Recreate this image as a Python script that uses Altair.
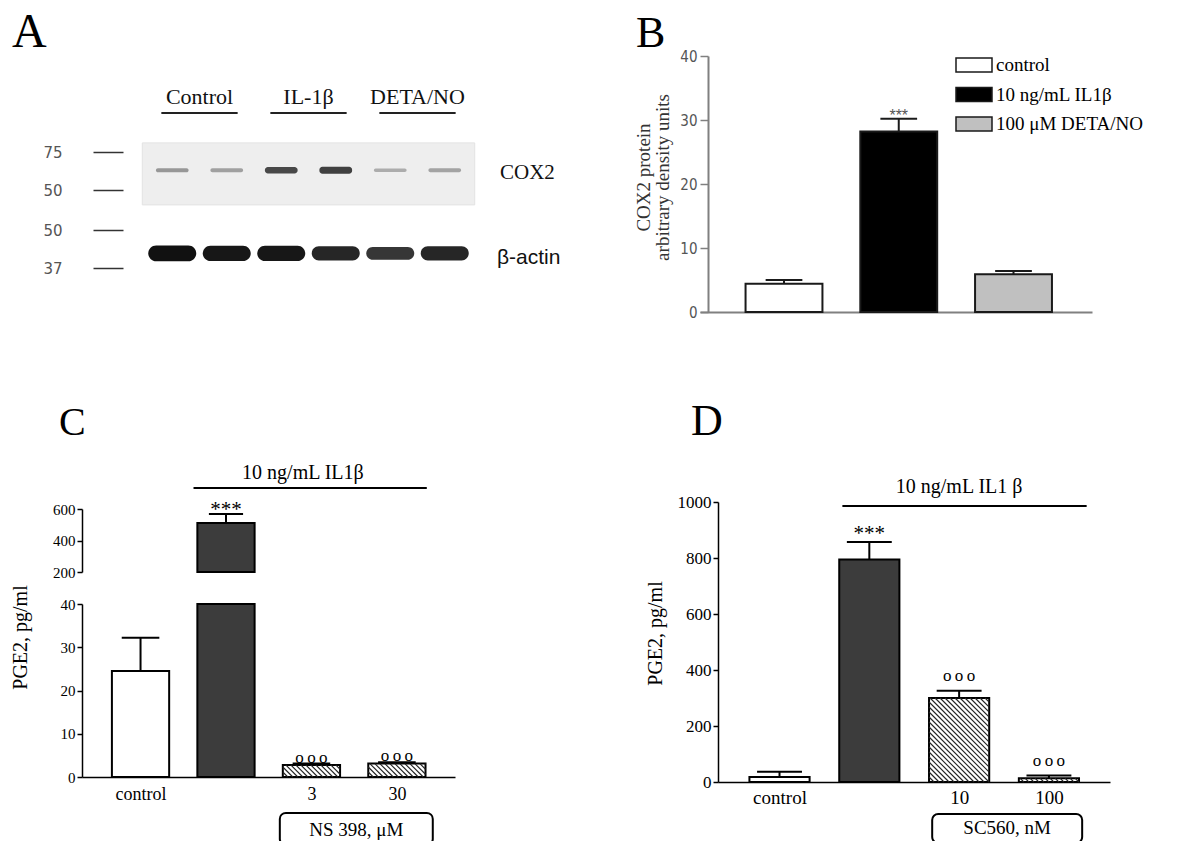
import json
import altair as alt
import pandas as pd

# ---------------- values ----------------
# Panel A - western blot, 6 lanes (duplicates per treatment)
lanes = [1, 2, 3, 4, 5, 6]
lane_treatment = ["Control", "Control", "IL-1β", "IL-1β", "DETA/NO", "DETA/NO"]
cox2_intensity = [0.35, 0.30, 0.85, 0.90, 0.22, 0.28]
actin_intensity = [1.00, 0.95, 0.95, 0.80, 0.65, 0.80]
cox2_band_kda = 63
actin_band_kda = 42
cox2_markers = [75, 50]
actin_markers = [50, 37]

# Panel B - COX2 densitometry
b_groups = ["control", "10 ng/mL IL1β", "100 μM DETA/NO"]
b_mean = [4.4, 28.2, 5.9]
b_sem = [0.6, 2.0, 0.5]
b_sig = ["", "***", ""]

# Panel C - PGE2 with NS 398
c_labels = ["control", "", "3", "30"]
c_kind = ["control", "IL1β", "inhibitor", "inhibitor"]
c_mean = [24.5, 511, 2.8, 3.1]
c_sem = [7.7, 57, 0.3, 0.3]
c_sig = ["", "***", "o\u2009o\u2009o", "o\u2009o\u2009o"]
c_treat_label = "10 ng/mL IL1β"
c_inhib_label = "NS 398, μM"

# Panel D - PGE2 with SC560
d_labels = ["control", "", "10", "100"]
d_kind = ["control", "IL1β", "inhibitor", "inhibitor"]
d_mean = [18, 795, 300, 13]
d_sem = [19, 62, 26, 10]
d_sig = ["", "***", "o\u2009o\u2009o", "o\u2009o\u2009o"]
d_treat_label = "10 ng/mL IL1 β"
d_inhib_label = "SC560, nM"

# ---------------- layout / style ----------------
W, H = 1184, 833
SERIF = "Liberation Serif"
SANS = "Liberation Sans"
NARROW = "Liberation Sans Narrow, DejaVu Sans Condensed, Liberation Sans"
MARKF = "DejaVu Sans"
HW = 0.335  # bar half width (in category steps)


def px(v):
    return v - 8


def lin(domain, rng):
    return alt.Scale(domain=domain, range=rng, nice=False, zero=False)


def bar_frame(labels, kinds, mean, sem, sig):
    return pd.DataFrame({
        "i": list(range(len(labels))), "label": labels, "kind": kinds,
        "mean": mean, "top": [m + s for m, s in zip(mean, sem)], "sig": sig,
    })


# ================= Panel A =================
blot = pd.DataFrame({"lane": lanes, "group": lane_treatment,
                     "cox2": cox2_intensity, "actin": actin_intensity})
xA = lin([0.5, 6.5], [px(145), px(472)])
yA1 = lin([50, 75], [px(190), px(152)])
yA2 = lin([37, 50], [px(268), px(230)])


def marker_axis(vals, axis_x):
    return alt.Axis(orient="left", offset=-px(axis_x), values=vals, tickSize=30,
                    tickWidth=1.5, tickColor="#333", domain=False, labelFont=MARKF,
                    labelFontSize=15, labelColor="#555", labelPadding=31,
                    grid=False, title=None)


axA1 = marker_axis(cox2_markers, 123)
axA2 = marker_axis(actin_markers, 123)
base_blot = alt.Chart(blot)

membrane = base_blot.transform_aggregate(
    lo="min(lane)", hi="max(lane)"
).transform_calculate(
    x1="datum.lo - 0.55", x2="datum.hi + 0.55", y1="40.2", y2="81"
).mark_rect(fill="#eeeeee", stroke="#e3e3e3").encode(
    x=alt.X("x1:Q", scale=xA, axis=None), x2="x2:Q",
    y=alt.Y("y1:Q", scale=yA1, axis=axA1), y2="y2:Q")

cox_bands = base_blot.transform_calculate(
    x1="datum.lane - 0.3", x2="datum.lane + 0.3",
    y1=f"{cox2_band_kda} - (0.8 + 1.6*datum.cox2)",
    y2=f"{cox2_band_kda} + (0.8 + 1.6*datum.cox2)",
    op="0.15 + 0.8*datum.cox2"
).mark_rect(fill="#262626", cornerRadius=3).encode(
    x=alt.X("x1:Q", scale=xA, axis=None), x2="x2:Q",
    y=alt.Y("y1:Q", scale=yA1, axis=axA1), y2="y2:Q",
    opacity=alt.Opacity("op:Q", scale=None))

grp = base_blot.transform_aggregate(center="mean(lane)", groupby=["group"])
group_text = grp.mark_text(font=SERIF, fontSize=22, baseline="middle", color="#111").encode(
    x=alt.X("center:Q", scale=xA, axis=None), y=alt.value(px(97)), text="group:N")
group_line = grp.transform_calculate(
    l="datum.center - 0.7", r="datum.center + 0.7"
).mark_rule(color="#222", strokeWidth=2).encode(
    x=alt.X("l:Q", scale=xA, axis=None), x2="r:Q", y=alt.value(px(113)))

panelA_top = alt.layer(membrane, cox_bands, group_text, group_line)

actin_bands = base_blot.transform_calculate(
    x1="datum.lane - 0.44", x2="datum.lane + 0.44",
    y1=f"{actin_band_kda} - (1.2 + 1.5*datum.actin)",
    y2=f"{actin_band_kda} + (1.2 + 1.5*datum.actin)",
    op="0.55 + 0.45*datum.actin"
).mark_rect(fill="#111111", cornerRadius=8).encode(
    x=alt.X("x1:Q", scale=xA, axis=None), x2="x2:Q",
    y=alt.Y("y1:Q", scale=yA2, axis=axA2), y2="y2:Q",
    opacity=alt.Opacity("op:Q", scale=None))
panelA_bot = alt.layer(actin_bands)

lbl_cox2 = alt.Chart(pd.DataFrame({"t": ["COX2"]})).mark_text(
    font=SERIF, fontSize=21, align="left", baseline="middle", color="#111").encode(
    text="t:N", x=alt.value(px(500)), y=alt.value(px(173)))
lbl_actin = alt.Chart(pd.DataFrame({"t": ["β-actin"]})).mark_text(
    font=SANS, fontSize=21, align="left", baseline="middle", color="#111").encode(
    text="t:N", x=alt.value(px(497)), y=alt.value(px(258)))

# ================= Panel B =================
b_df = bar_frame(b_groups, b_groups, b_mean, b_sem, b_sig)
xB = lin([-0.732, 2.684], [px(700), px(1092)])
yB = lin([0, 40], [px(312), px(56)])
fillB = alt.Scale(domain=b_groups, range=["white", "black", "#c0c0c0"])
axBx = alt.Axis(orient="bottom", offset=px(312) - H, ticks=False, labels=False,
                domainColor="#808080", domainWidth=2, grid=False, title=None)
axBy = alt.Axis(orient="left", offset=-px(708), values=[0, 10, 20, 30, 40],
                tickSize=8, tickWidth=1.5, tickColor="#808080", domainColor="#808080",
                domainWidth=2, labelFont=NARROW, labelFontSize=15, labelColor="#555",
                labelPadding=3, grid=False,
                title=["COX2 protein", "arbitrary density units"], titleFont=SERIF,
                titleFontSize=19, titleFontWeight="normal", titleColor="#333",
                titleLineHeight=19, titleX=-65, titleY=px(177), titleAngle=270,
                titleBaseline="middle", titleAlign="center")
bB = alt.Chart(b_df)
b_bars = bB.transform_calculate(x1=f"datum.i - {HW}", x2=f"datum.i + {HW}").mark_rect(
    stroke="#1a1a1a", strokeWidth=2).encode(
    x=alt.X("x1:Q", scale=xB, axis=axBx), x2="x2:Q",
    y=alt.Y("mean:Q", scale=yB, axis=axBy), y2=alt.datum(0),
    fill=alt.Fill("label:N", scale=fillB, legend=None))
b_stem = bB.mark_rule(color="#1a1a1a", strokeWidth=2).encode(
    x=alt.X("i:Q", scale=xB, axis=axBx),
    y=alt.Y("mean:Q", scale=yB, axis=axBy), y2="top:Q")
b_cap = bB.transform_calculate(c1="datum.i - 0.16", c2="datum.i + 0.16").mark_rule(
    color="#1a1a1a", strokeWidth=2).encode(
    x=alt.X("c1:Q", scale=xB, axis=axBx), x2="c2:Q",
    y=alt.Y("top:Q", scale=yB, axis=axBy))
b_star = bB.mark_text(font=SANS, fontSize=16, color="#555", dy=-3).encode(
    x=alt.X("i:Q", scale=xB, axis=axBx),
    y=alt.Y("top:Q", scale=yB, axis=axBy), text="sig:N")
panelB = alt.layer(b_bars, b_stem, b_cap, b_star)

yLeg = alt.Scale(type="point", domain=b_groups, range=[px(65), px(124)], padding=0)
leg_sym = alt.Chart(b_df).mark_point(
    shape="M-1,-0.39H1V0.39H-1Z", size=1296, filled=True, opacity=1,
    stroke="#1a1a1a", strokeWidth=1.5).encode(
    x=alt.value(px(974)), y=alt.Y("label:N", scale=yLeg, axis=None),
    fill=alt.Fill("label:N", scale=fillB, legend=None))
leg_txt = alt.Chart(b_df).mark_text(
    font=SERIF, fontSize=19, align="left", baseline="middle", color="black").encode(
    x=alt.value(px(996)), y=alt.Y("label:N", scale=yLeg, axis=None), text="label:N")
panelB_legend = alt.layer(leg_sym, leg_txt)


# ================= Panels C & D helpers =================
def x_axis(labels, axis_y, fsize, pad):
    expr = json.dumps(labels, ensure_ascii=False) + "[datum.value]"
    return alt.Axis(orient="bottom", offset=px(axis_y) - H, values=list(range(len(labels))),
                    labelExpr=expr, ticks=False, domainColor="black", domainWidth=1.5,
                    labelFont=SERIF, labelFontSize=fsize, labelColor="black",
                    labelPadding=pad, labelFlush=False, labelOverlap=False,
                    grid=False, title=None)


def y_axis(vals, axis_x, fsize, title=None, tx=0, ty=0):
    kw = dict(orient="left", offset=-px(axis_x), values=vals, format="d", tickSize=5,
              tickWidth=1.5, tickColor="black", domainColor="black", domainWidth=1.5,
              labelFont=SERIF, labelFontSize=fsize, labelColor="black", labelPadding=2,
              grid=False)
    if title:
        kw.update(title=title, titleFont=SERIF, titleFontSize=20, titleFontWeight="normal",
                  titleColor="black", titleX=tx, titleY=ty, titleAngle=270,
                  titleBaseline="middle", titleAlign="center")
    else:
        kw.update(title=None)
    return alt.Axis(**kw)


def hatch(chart, pxx, pxy, xs, ys, xax, yax):
    return chart.transform_filter("datum.kind == 'inhibitor'").transform_calculate(
        k="sequence(1, 60)").transform_flatten(["k"]).transform_calculate(
        bw=f"{2 * HW * pxx}", bh=f"datum.mean * {pxy}", c="datum.k * 5"
    ).transform_filter("datum.c < datum.bw + datum.bh").transform_calculate(
        u1="max(0, datum.c - datum.bh)", u2="min(datum.bw, datum.c)"
    ).transform_calculate(
        hx1=f"datum.i - {HW} + datum.u1 / {pxx}", hy1=f"(datum.c - datum.u1) / {pxy}",
        hx2=f"datum.i - {HW} + datum.u2 / {pxx}", hy2=f"(datum.c - datum.u2) / {pxy}"
    ).mark_rule(color="#222", strokeWidth=1.1).encode(
        x=alt.X("hx1:Q", scale=xs, axis=xax), x2="hx2:Q",
        y=alt.Y("hy1:Q", scale=ys, axis=yax), y2="hy2:Q")


fillCD = alt.Scale(domain=["control", "IL1β", "inhibitor"], range=["white", "#3c3c3c", "white"])

# ================= Panel C =================
c_df = bar_frame(c_labels, c_kind, c_mean, c_sem, c_sig)
xC = lin([-0.685, 3.68], [px(82), px(455)])
yCb = lin([0, 40], [px(777), px(604)])
yCt = lin([200, 600], [px(572), px(509)])
axCx = x_axis(c_labels, 777, 18, 8)
axCyb = y_axis([0, 10, 20, 30, 40], 82, 15, "PGE2, pg/ml", -62, px(637))
axCyt = y_axis([200, 400, 600], 82, 15)
cC = alt.Chart(c_df)

c_bars = cC.transform_calculate(
    x1=f"datum.i - {HW}", x2=f"datum.i + {HW}", hm="min(datum.mean, 40)"
).mark_rect(stroke="black", strokeWidth=2).encode(
    x=alt.X("x1:Q", scale=xC, axis=axCx), x2="x2:Q",
    y=alt.Y("hm:Q", scale=yCb, axis=axCyb), y2=alt.datum(0),
    fill=alt.Fill("kind:N", scale=fillCD, legend=None))
c_hatch = hatch(cC, 85.45, 4.325, xC, yCb, axCx, axCyb)
c_low = cC.transform_filter("datum.top <= 40")
c_stem = c_low.mark_rule(color="black", strokeWidth=2).encode(
    x=alt.X("i:Q", scale=xC, axis=axCx),
    y=alt.Y("mean:Q", scale=yCb, axis=axCyb), y2="top:Q")
c_cap = c_low.transform_calculate(c1="datum.i - 0.22", c2="datum.i + 0.22").mark_rule(
    color="black", strokeWidth=2).encode(
    x=alt.X("c1:Q", scale=xC, axis=axCx), x2="c2:Q",
    y=alt.Y("top:Q", scale=yCb, axis=axCyb))
c_sig_low = c_low.mark_text(font=SERIF, fontSize=17, dy=-6).encode(
    x=alt.X("i:Q", scale=xC, axis=axCx),
    y=alt.Y("top:Q", scale=yCb, axis=axCyb), text="sig:N")
c_box_df = pd.DataFrame({"s": [2], "e": [3], "t": [c_inhib_label]})
c_box = alt.Chart(c_box_df).transform_calculate(
    b1="datum.s - 0.37", b2="datum.e + 0.42", yb1="-8.3", yb2="-15.7"
).mark_rect(fill="white", stroke="black", strokeWidth=2, cornerRadius=6).encode(
    x=alt.X("b1:Q", scale=xC, axis=axCx), x2="b2:Q",
    y=alt.Y("yb1:Q", scale=yCb, axis=axCyb), y2="yb2:Q")
c_box_txt = alt.Chart(c_box_df).transform_calculate(
    tx="(datum.s - 0.37 + datum.e + 0.42) / 2", ty="-12.2"
).mark_text(font=SERIF, fontSize=19, baseline="middle").encode(
    x=alt.X("tx:Q", scale=xC, axis=axCx),
    y=alt.Y("ty:Q", scale=yCb, axis=axCyb), text="t:N")
panelC_bot = alt.layer(c_bars, c_hatch, c_stem, c_cap, c_sig_low, c_box, c_box_txt)

c_hi = cC.transform_filter("datum.mean > 40")
ct_bar = c_hi.transform_calculate(x1=f"datum.i - {HW}", x2=f"datum.i + {HW}").mark_rect(
    fill="#3c3c3c", stroke="black", strokeWidth=2).encode(
    x=alt.X("x1:Q", scale=xC, axis=None), x2="x2:Q",
    y=alt.Y("mean:Q", scale=yCt, axis=axCyt), y2=alt.datum(200))
ct_stem = c_hi.mark_rule(color="black", strokeWidth=2).encode(
    x=alt.X("i:Q", scale=xC, axis=None),
    y=alt.Y("mean:Q", scale=yCt, axis=axCyt), y2="top:Q")
ct_cap = c_hi.transform_calculate(c1="datum.i - 0.2", c2="datum.i + 0.2").mark_rule(
    color="black", strokeWidth=2).encode(
    x=alt.X("c1:Q", scale=xC, axis=None), x2="c2:Q",
    y=alt.Y("top:Q", scale=yCt, axis=axCyt))
ct_star = c_hi.mark_text(font=SERIF, fontSize=21, baseline="alphabetic", dy=2).encode(
    x=alt.X("i:Q", scale=xC, axis=None),
    y=alt.Y("top:Q", scale=yCt, axis=axCyt), text="sig:N")
c_br_df = pd.DataFrame({"s": [1], "e": [3], "t": [c_treat_label]})
c_br = alt.Chart(c_br_df).transform_calculate(
    b1="datum.s - 0.38", b2="datum.e + 0.35", by="733"
).mark_rule(color="black", strokeWidth=2).encode(
    x=alt.X("b1:Q", scale=xC, axis=None), x2="b2:Q",
    y=alt.Y("by:Q", scale=yCt, axis=axCyt))
c_br_txt = alt.Chart(c_br_df).transform_calculate(
    tx="(datum.s + datum.e) / 2 - 0.1", ty="829"
).mark_text(font=SERIF, fontSize=20, baseline="middle").encode(
    x=alt.X("tx:Q", scale=xC, axis=None),
    y=alt.Y("ty:Q", scale=yCt, axis=axCyt), text="t:N")
panelC_top = alt.layer(ct_bar, ct_stem, ct_cap, ct_star, c_br, c_br_txt)

# ================= Panel D =================
d_df = bar_frame(d_labels, d_kind, d_mean, d_sem, d_sig)
xD = lin([-0.685, 3.68], [px(718), px(1110)])
yD = lin([0, 1000], [px(782), px(502)])
axDx = x_axis(d_labels, 782, 19, 6)
axDy = y_axis([0, 200, 400, 600, 800, 1000], 718, 17, "PGE2, pg/ml", -63, px(633))
cD = alt.Chart(d_df)
d_bars = cD.transform_calculate(x1=f"datum.i - {HW}", x2=f"datum.i + {HW}").mark_rect(
    stroke="black", strokeWidth=2).encode(
    x=alt.X("x1:Q", scale=xD, axis=axDx), x2="x2:Q",
    y=alt.Y("mean:Q", scale=yD, axis=axDy), y2=alt.datum(0),
    fill=alt.Fill("kind:N", scale=fillCD, legend=None))
d_hatch = hatch(cD, 89.8, 0.28, xD, yD, axDx, axDy)
d_stem = cD.mark_rule(color="black", strokeWidth=2).encode(
    x=alt.X("i:Q", scale=xD, axis=axDx),
    y=alt.Y("mean:Q", scale=yD, axis=axDy), y2="top:Q")
d_cap = cD.transform_calculate(c1="datum.i - 0.25", c2="datum.i + 0.25").mark_rule(
    color="black", strokeWidth=2).encode(
    x=alt.X("c1:Q", scale=xD, axis=axDx), x2="c2:Q",
    y=alt.Y("top:Q", scale=yD, axis=axDy))
d_star = cD.transform_filter("datum.kind == 'IL1β'").mark_text(
    font=SERIF, fontSize=21, baseline="alphabetic", dy=-2).encode(
    x=alt.X("i:Q", scale=xD, axis=axDx),
    y=alt.Y("top:Q", scale=yD, axis=axDy), text="sig:N")
d_circ = cD.transform_filter("datum.kind == 'inhibitor'").mark_text(
    font=SERIF, fontSize=17, baseline="alphabetic", dy=-10).encode(
    x=alt.X("i:Q", scale=xD, axis=axDx),
    y=alt.Y("top:Q", scale=yD, axis=axDy), text="sig:N")
d_br_df = pd.DataFrame({"s": [1], "e": [3], "t": [d_treat_label]})
d_br = alt.Chart(d_br_df).transform_calculate(
    b1="datum.s - 0.30", b2="datum.e + 0.42", by="986"
).mark_rule(color="black", strokeWidth=2).encode(
    x=alt.X("b1:Q", scale=xD, axis=axDx), x2="b2:Q",
    y=alt.Y("by:Q", scale=yD, axis=axDy))
d_br_txt = alt.Chart(d_br_df).transform_calculate(
    tx="(datum.s + datum.e) / 2", ty="1054"
).mark_text(font=SERIF, fontSize=20, baseline="middle").encode(
    x=alt.X("tx:Q", scale=xD, axis=axDx),
    y=alt.Y("ty:Q", scale=yD, axis=axDy), text="t:N")
d_box_df = pd.DataFrame({"s": [2], "e": [3], "t": [d_inhib_label]})
d_box = alt.Chart(d_box_df).transform_calculate(
    b1="datum.s - 0.30", b2="datum.e + 0.37", yb1="-114", yb2="-218"
).mark_rect(fill="white", stroke="black", strokeWidth=2, cornerRadius=6).encode(
    x=alt.X("b1:Q", scale=xD, axis=axDx), x2="b2:Q",
    y=alt.Y("yb1:Q", scale=yD, axis=axDy), y2="yb2:Q")
d_box_txt = alt.Chart(d_box_df).transform_calculate(
    tx="(datum.s - 0.30 + datum.e + 0.37) / 2", ty="-164"
).mark_text(font=SERIF, fontSize=19, baseline="middle").encode(
    x=alt.X("tx:Q", scale=xD, axis=axDx),
    y=alt.Y("ty:Q", scale=yD, axis=axDy), text="t:N")
panelD = alt.layer(d_bars, d_hatch, d_stem, d_cap, d_star, d_circ,
                   d_br, d_br_txt, d_box, d_box_txt)


# ================= panel letters =================
def letter(t, x, y, size):
    return alt.Chart(pd.DataFrame({"t": [t]})).mark_text(
        font=SERIF, fontSize=size, align="left", baseline="alphabetic", color="black"
    ).encode(text="t:N", x=alt.value(px(x)), y=alt.value(px(y)))


letters = alt.layer(letter("A", 12, 47, 48), letter("B", 636, 47, 44),
                    letter("C", 59, 435, 40), letter("D", 691, 435, 44))

chart = alt.layer(
    panelA_top, panelA_bot, lbl_cox2, lbl_actin,
    panelB, panelB_legend,
    panelC_bot, panelC_top,
    panelD, letters,
).resolve_scale(
    x="independent", y="independent", fill="independent", opacity="independent"
).properties(
    width=W, height=H, padding=0, autosize=alt.AutoSizeParams(type="none")
).configure_view(stroke=None).configure_axis(grid=False)

chart.save("out.html", embed_options={"renderer": "svg", "actions": False})
